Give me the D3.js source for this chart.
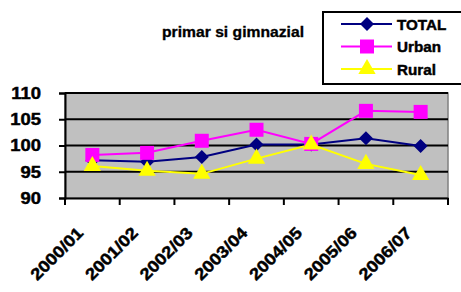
<!DOCTYPE html>
<html><head><meta charset="utf-8">
<script src="https://cdn.jsdelivr.net/npm/d3@7"></script>
<style>body{margin:0;background:#fff}text{font-family:Arial,"Liberation Sans",sans-serif;font-weight:bold;stroke:#000;stroke-width:0.45px}</style>
</head><body><svg id="c" width="461" height="292"></svg>
<script>
const categories = ["2000/01","2001/02","2002/03","2003/04","2004/05","2005/06","2006/07"];
const totalValues = [97.2, 96.9, 97.8, 100.2, 100.2, 101.4, 99.9];
const urbanValues = [98.2, 98.6, 100.9, 103.0, 100.3, 106.6, 106.4];
const ruralValues = [96.1, 95.2, 94.6, 97.5, 100.2, 96.5, 94.4];
const yTicks = [90, 95, 100, 105, 110];
const seriesNames = ["TOTAL","Urban","Rural"];
const seriesColors = ["#000080","#ff00ff","#ffff00"];
const title = "primar si gimnazial";

const diamond = {draw(ctx, size){const r = Math.sqrt(size)/2; ctx.moveTo(0,-r); ctx.lineTo(r,0); ctx.lineTo(0,r); ctx.lineTo(-r,0); ctx.closePath();}};
const seriesShapes = [diamond, d3.symbolSquare, d3.symbolTriangle];
const seriesSizes = [196, 196, 130];

const svg = d3.select("#c");
const L = 65, R = 448, T = 93, B = 198;
const SX = 1.12;
const x = d3.scaleBand().domain(categories).range([L, R]);
const y = d3.scaleLinear().domain([90, 110]).range([B, T]);

svg.append("rect").attr("x", L).attr("y", T).attr("width", R - L).attr("height", B - T)
  .attr("fill", "#c0c0c0").attr("stroke", "#808080").attr("stroke-width", 1.5);

svg.append("g").selectAll("line").data(yTicks.slice(1)).join("line")
  .attr("x1", L).attr("x2", R).attr("y1", d => y(d)).attr("y2", d => y(d))
  .attr("stroke", "#000").attr("stroke-width", 2);

const yAxis = svg.append("g").attr("transform", `translate(${L},0)`)
  .call(d3.axisLeft(y).tickValues(yTicks).tickSize(6).tickPadding(18));
yAxis.select(".domain").attr("stroke-width", 2);
yAxis.selectAll("line").attr("stroke-width", 2);
yAxis.selectAll("text").attr("font-size", 16.5).attr("fill", "#000")
  .attr("transform", function(){ const xx = +d3.select(this).attr("x"); return `translate(${xx*(1-SX)},0) scale(${SX},1)`; })
  .style("font-family", "Arial, 'Liberation Sans', sans-serif").style("font-weight", "bold");

const xAxis = svg.append("g").attr("transform", `translate(0,${B})`)
  .call(d3.axisBottom(x).tickSize(0).tickFormat(""));
xAxis.select(".domain").attr("stroke-width", 2);
xAxis.append("g").selectAll("line").data(d3.range(categories.length + 1)).join("line")
  .attr("x1", i => L + i * x.step()).attr("x2", i => L + i * x.step())
  .attr("y1", 0).attr("y2", 7).attr("stroke", "#000").attr("stroke-width", 2);
svg.append("g").selectAll("text").data(categories).join("text")
  .attr("transform", d => `translate(${x(d) + x.bandwidth() / 2 - 8},${B + 36}) rotate(-45) scale(${SX},1)`)
  .attr("text-anchor", "end").attr("font-size", 16.5).attr("fill", "#000").text(d => d);

const allSeries = [totalValues, urbanValues, ruralValues];
const line = d3.line().x((d, i) => x(categories[i]) + x.bandwidth() / 2).y(d => y(d));
allSeries.forEach((vals, s) => {
  svg.append("path").datum(vals).attr("d", line).attr("fill", "none")
    .attr("stroke", seriesColors[s]).attr("stroke-width", 2);
});
allSeries.forEach((vals, s) => {
  svg.append("g").selectAll("path").data(vals).join("path")
    .attr("transform", (d, i) => `translate(${x(categories[i]) + x.bandwidth() / 2},${y(d)})`)
    .attr("d", d3.symbol(seriesShapes[s], seriesSizes[s])).attr("fill", seriesColors[s]);
});

svg.append("text").attr("transform", `translate(233,37) scale(${SX},1)`).attr("text-anchor", "middle")
  .attr("font-size", 14).attr("fill", "#000").style("stroke-width", "0.3px").text(title);

const lg = svg.append("g");
lg.append("rect").attr("x", 323).attr("y", 12).attr("width", 140).attr("height", 72)
  .attr("fill", "#fff").attr("stroke", "#000").attr("stroke-width", 2);
seriesNames.forEach((n, s) => {
  const yy = 24 + s * 22.5;
  lg.append("line").attr("x1", 341).attr("x2", 392).attr("y1", yy).attr("y2", yy)
    .attr("stroke", seriesColors[s]).attr("stroke-width", 2);
  lg.append("path").attr("transform", `translate(367,${yy})`)
    .attr("d", d3.symbol(seriesShapes[s], seriesSizes[s])).attr("fill", seriesColors[s]);
  lg.append("text").attr("transform", `translate(397,${yy + 5.5}) scale(1.05,1)`).attr("font-size", 14.5).attr("fill", "#000").text(n);
});
</script></body></html>
